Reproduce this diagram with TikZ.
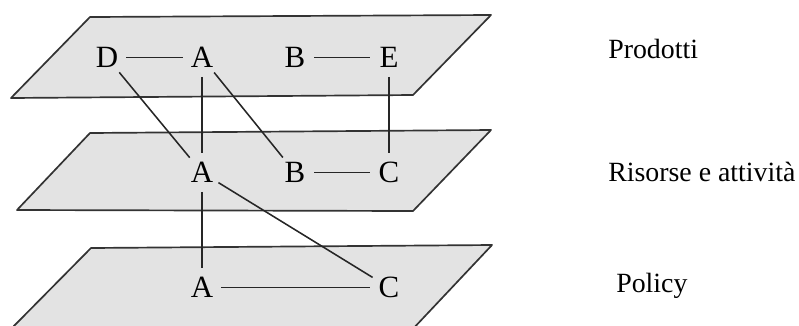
\documentclass[tikz,border=0pt]{standalone}
\usepackage{fontspec}
\setmainfont{Liberation Serif}
\usepackage{tikz}
\usetikzlibrary{positioning}
\tikzset{
  plane/.style={draw=black!80, line width=1.2pt, fill=black!11, line join=round},
  item/.style={circle, inner sep=0pt, minimum size=0.95cm, font=\fontsize{22}{25}\selectfont},
  link/.style={line width=1.1pt, black!85},
  lvl/.style={anchor=base west, inner sep=0pt, font=\fontsize{19.8}{23}\selectfont},
}

\begin{document}
\begin{tikzpicture}[x=0.025cm, y=-0.025cm]
  \useasboundingbox (0,0) rectangle (799,325);
  \begin{scope}
    \clip (0,0) rectangle (799,325);
    \draw[plane] (90,17) -- (491,15) -- (413,95) -- (11,98) -- cycle;
    \draw[plane] (90,133) -- (491,130) -- (413,211) -- (17,210) -- cycle;
    \draw[plane] (91,248) -- (492,245) -- (410,332) -- (8,332) -- cycle;
  \end{scope}
  \node[item] (pD) at (107,57.5) {D};
  \node[item] (pA) at (202,57.5) {A};
  \node[item] (pB) at (295,57.5) {B};
  \node[item] (pE) at (389,57.5) {E};
  \node[item] (rA) at (202,172.5) {A};
  \node[item] (rB) at (295,172.5) {B};
  \node[item] (rC) at (389,172.5) {C};
  \node[item] (qA) at (202,287.5) {A};
  \node[item] (qC) at (389,287.5) {C};
  \draw[link] (pD) -- (pA);
  \draw[link] (pB) -- (pE);
  \draw[link] (pD) -- (rA);
  \draw[link] (pA) -- (rA);
  \draw[link] (pA) -- (rB);
  \draw[link] (pE) -- (rC);
  \draw[link] (rB) -- (rC);
  \draw[link] (rA) -- (qA);
  \draw[link] (rA) -- (qC);
  \draw[link] (qA) -- (qC);
  \node[lvl] (prod) at (608,58) {Prodotti};
  \node[lvl] (ris) at (608,181) {Risorse e attività};
  \node[lvl] (pol) at (616,292) {Policy};
\end{tikzpicture}
\end{document}
